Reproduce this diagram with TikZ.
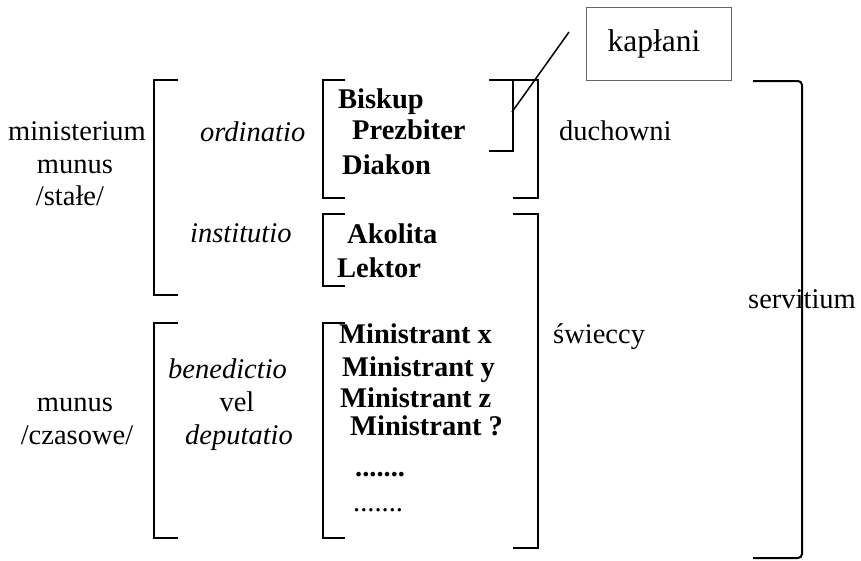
\documentclass[tikz,border=0pt]{standalone}
\usepackage{fontspec}
\setmainfont{Liberation Serif}
\begin{document}
\begin{tikzpicture}[x=1pt,y=-1pt,
  txt/.style={inner sep=0pt, font=\fontsize{28.5}{33}\selectfont},
  btxt/.style={inner sep=0pt, font=\fontsize{28.5}{33}\selectfont\bfseries},
  itxt/.style={inner sep=0pt, font=\fontsize{28.5}{33}\selectfont\itshape},
  brk/.style={line width=2pt, line join=miter},
  boxst/.style={draw=black!60, line width=0.9pt, minimum width=145pt, minimum height=73pt, inner sep=0pt, font=\fontsize{31.5}{36}\selectfont}]
\useasboundingbox (0,0) rectangle (861,560);

% left labels
\node[txt, anchor=base] (min) at (77,140) {ministerium};
\node[txt, anchor=base] (mun1) at (75,173) {munus};
\node[txt, anchor=base] (sta) at (70,205) {/stałe/};
\node[txt, anchor=base] (mun2) at (75,411) {munus};
\node[txt, anchor=base] (cza) at (77,444) {/czasowe/};

% middle labels
\node[itxt, anchor=base west] (ord) at (200,141) {ordinatio};
\node[itxt, anchor=base west] (ins) at (190,242) {institutio};
\node[itxt, anchor=base west] (ben) at (168,378) {benedictio};
\node[txt, anchor=base] (vel) at (237,411) {vel};
\node[itxt, anchor=base west] (dep) at (185,444) {deputatio};

% ranks
\node[btxt, anchor=base west] (bis) at (338,108) {Biskup};
\node[btxt, anchor=base west] (pre) at (352,139) {Prezbiter};
\node[btxt, anchor=base west] (dia) at (342,174) {Diakon};
\node[btxt, anchor=base west] (ako) at (347,243) {Akolita};
\node[btxt, anchor=base west] (lek) at (337,277) {Lektor};
\node[btxt, anchor=base west] (mx) at (339,343) {Ministrant x};
\node[btxt, anchor=base west] (my) at (342,376) {Ministrant y};
\node[btxt, anchor=base west] (mz) at (340,407) {Ministrant z};
\node[btxt, anchor=base west] (mq) at (350,435) {Ministrant ?};
\node[btxt, anchor=base west] (d1) at (355,476) {.......};
\node[txt, anchor=base west] (d2) at (353,511) {.......};

% right labels
\node[txt, anchor=base west] (duc) at (559,140) {duchowni};
\node[txt, anchor=base west] (swi) at (553,343) {świeccy};
\node[txt, anchor=base west] (ser) at (748,308) {servitium};
\node[boxst, anchor=north west] (kap) at (586,7) {kapłani\hspace*{10pt}};

% brackets
\draw[brk] (178,80) -- (154,80) -- (154,295) -- (178,295);
\draw[brk] (178,323) -- (154,323) -- (154,538) -- (178,538);
\draw[brk] (345,80) -- (323,80) -- (323,198) -- (345,198);
\draw[brk] (489,80) -- (538,80) -- (538,198) -- (513,198);
\draw[brk] (489,151) -- (513,151) -- (513,80);
\draw[brk] (345,214) -- (323,214) -- (323,286) -- (345,286);
\draw[brk] (345,323) -- (323,323) -- (323,538) -- (345,538);
\draw[brk] (513,214) -- (538,214) -- (538,548) -- (513,548);
\draw[brk, rounded corners=4pt] (753,81) -- (802,81) -- (802,558) -- (753,558);

% pointer to kaplani
\coordinate (ps) at (512,112);
\coordinate (pe) at (569,32);
\draw[line width=1.5pt] (ps) -- (pe);
\end{tikzpicture}
\end{document}
